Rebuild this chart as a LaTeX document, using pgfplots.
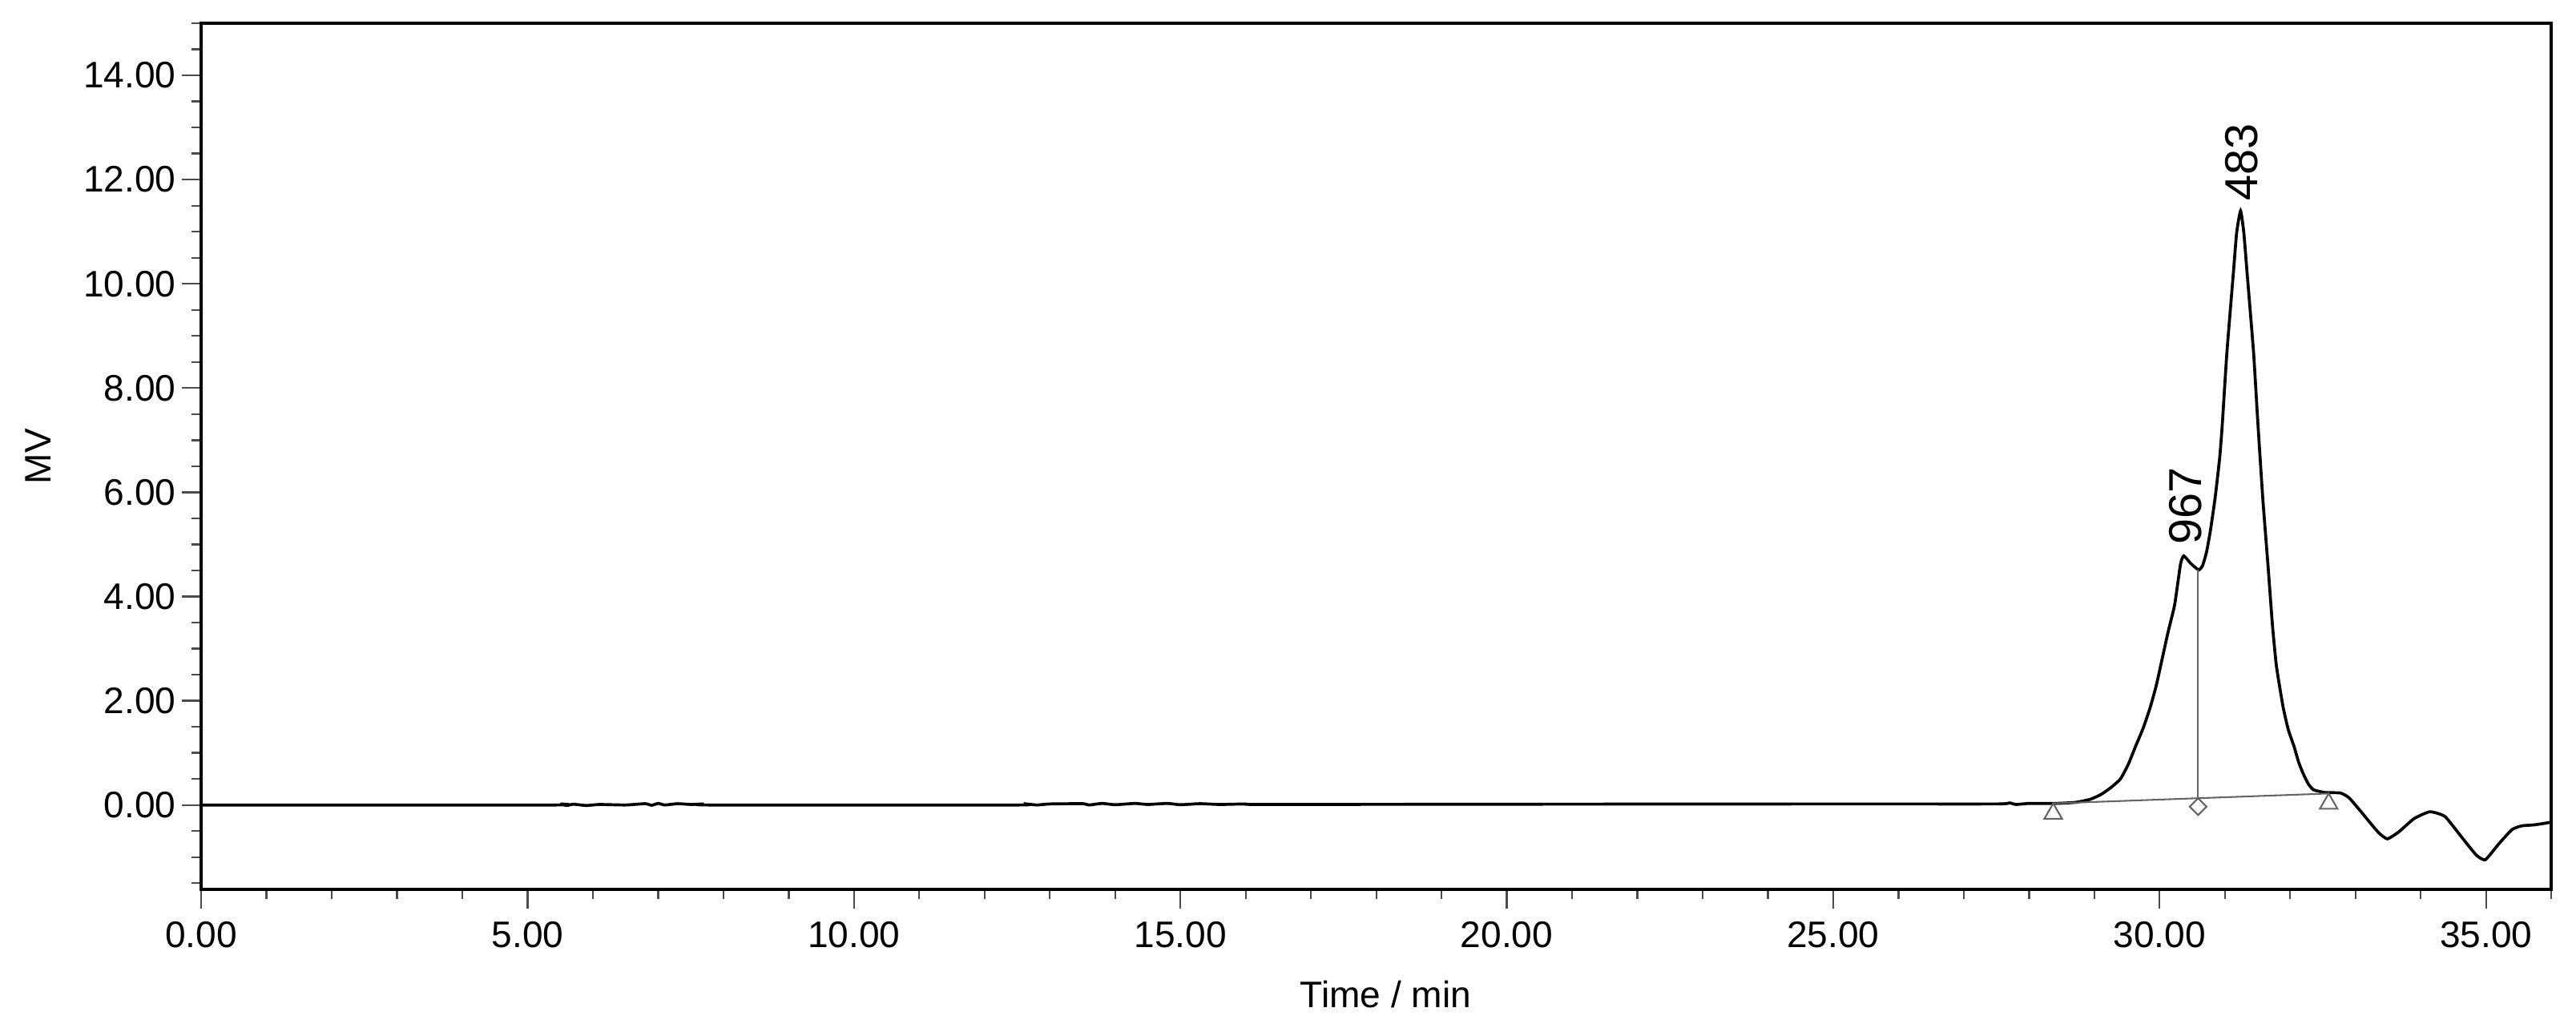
\documentclass[border=0pt]{standalone}
\usepackage{pgfplots}
\pgfplotsset{compat=1.18}
\usepackage{fontspec}
\setmainfont{Liberation Sans}

\definecolor{intcol}{RGB}{100,100,100}

\begin{document}
\begin{tikzpicture}
\begin{axis}[
    scale only axis,
    width=636.5pt,
    height=234.6pt,
    xmin=0, xmax=36,
    ymin=-1.62, ymax=15,
    xtick={0,5,...,35},
    minor xtick={0,1,...,36},
    ytick={0,2,...,14},
    minor ytick={-1.5,-1,...,15},
    tick align=outside,
    xtick pos=bottom,
    ytick pos=left,
    major tick length=5.3pt,
    minor tick length=2.7pt,
    tick style={black!70, line width=0.5pt},
    axis line style={line width=0.9pt},
    /pgf/number format/fixed,
    /pgf/number format/fixed zerofill,
    /pgf/number format/precision=2,
    /pgf/number format/assume math mode=true,
    ticklabel style={font=\fontsize{10}{12}\selectfont},
    yticklabel style={inner xsep=1.4pt},
    xlabel={Time / min},
    ylabel={MV},
    xlabel style={font=\fontsize{10}{12}\selectfont, at={(axis description cs:0.504,0)}, anchor=base, inner sep=0pt, yshift=-31.9pt},
    ylabel style={font=\fontsize{10}{12}\selectfont, at={(axis description cs:-0.0635,0.5)}, anchor=south, inner sep=0pt},
    clip=false,
]
% chromatogram trace
\addplot[black, line width=0.8pt, smooth, tension=0.3] coordinates {
(0,0) (5.4,0) (5.5,0.02) (5.6,-0.01) (5.7,0.015) (5.9,-0.01) (6.1,0.01)
(6.5,0) (6.8,0.025) (6.9,-0.005) (7.0,0.03) (7.1,0.0) (7.3,0.025) (7.5,0.01)
(7.7,0.02) (7.8,0.0) (12.5,0.0) (12.6,0.025) (12.8,0.0) (13.0,0.02) (13.5,0.025)
(13.6,0.0) (13.8,0.03) (14.0,0.005) (14.3,0.03) (14.5,0.01) (14.8,0.03) (15.0,0.005)
(15.3,0.025) (15.6,0.01) (16.0,0.02) (16.2,0.01) (20,0.015) (25,0.02) (27.5,0.02)
(27.7,0.04) (27.8,0.01) (28.0,0.03) (28.4,0.03) (28.71,0.05) (28.94,0.11) (29.1,0.2)
(29.25,0.33) (29.40,0.50) (29.52,0.78) (29.63,1.12) (29.75,1.48) (29.86,1.89)
(29.95,2.3) (30.04,2.81) (30.13,3.32) (30.23,3.84) (30.32,4.62) (30.37,4.78)
(30.48,4.63) (30.60,4.51) (30.66,4.6) (30.72,4.86) (30.78,5.28) (30.85,5.89)
(30.92,6.66) (30.96,7.3) (31.03,8.67) (31.13,10.21) (31.18,10.98) (31.24,11.40)
(31.29,10.98) (31.34,10.21) (31.44,8.67) (31.50,7.43) (31.58,5.89) (31.66,4.6)
(31.73,3.43) (31.79,2.66) (31.89,1.89) (31.97,1.45) (32.06,1.12) (32.13,0.82)
(32.20,0.60) (32.28,0.40) (32.36,0.29) (32.53,0.24) (32.77,0.23) (32.90,0.14)
(33.08,-0.12) (33.25,-0.38) (33.37,-0.55) (33.49,-0.65) (33.66,-0.52)
(33.90,-0.26) (34.14,-0.13) (34.37,-0.22) (34.61,-0.59) (34.85,-0.96) (34.99,-1.05)
(35.20,-0.74) (35.40,-0.47) (35.55,-0.40) (35.75,-0.38) (36.0,-0.33)
};
% integration baseline and drop line
\addplot[intcol, line width=0.45pt] coordinates {(28.37,0.03) (32.59,0.22)};
\addplot[intcol, line width=0.45pt] coordinates {(30.59,0.13) (30.59,4.51)};
\addplot[only marks, mark=triangle, mark size=2.76pt,
    mark options={intcol, fill=white, line width=0.45pt, yshift=-2.76pt}]
    coordinates {(28.37,0.03) (32.59,0.22)};
\addplot[only marks, mark=square, mark size=1.61pt,
    mark options={intcol, fill=white, line width=0.45pt, yshift=-2.28pt, rotate=45}]
    coordinates {(30.59,0.13)};
% peak labels
\node[rotate=90, anchor=west, inner sep=0pt, font=\fontsize{12.5}{14}\selectfont] at (axis cs:30.40,4.98) {967};
\node[rotate=90, anchor=west, inner sep=0pt, font=\fontsize{12.5}{14}\selectfont] at (axis cs:31.25,11.58) {483};
\end{axis}
\pgfresetboundingbox
\path ([shift={(-54.5pt,-38.6pt)}]current axis.south west) rectangle ([shift={(6.7pt,6.3pt)}]current axis.north east);
\end{tikzpicture}
\end{document}
